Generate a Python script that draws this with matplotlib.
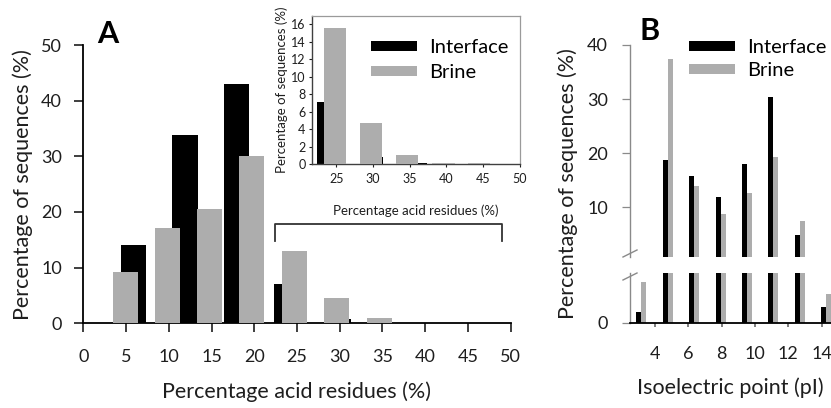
import matplotlib
matplotlib.use("Agg")
import matplotlib.pyplot as plt
from matplotlib.patches import Patch
from matplotlib.lines import Line2D

plt.rcParams['font.family'] = ['Lato', 'DejaVu Sans']

# ---------------- data ----------------
# Panel A: percentage acid residues (bin centres) and % of sequences
acid_brine_x = [4.94, 9.9, 14.8, 19.7, 24.7, 29.6, 34.6, 39.5, 44.4]
acid_brine = [9.2, 17.2, 20.6, 30.1, 13.0, 4.6, 0.9, 0.12, 0.05]
acid_interface_x = [5.9, 11.9, 17.9, 23.8, 29.8, 35.8, 41.7, 47.7]
acid_interface = [14.1, 33.9, 43.0, 7.1, 0.8, 0.1, 0.03, 0.02]

# Inset (tail of the distribution, >= 25 %)
inset_brine_x = [24.8, 29.7, 34.6, 39.6, 44.4]
inset_brine = [15.6, 4.7, 1.0, 0.15, 0.07]
inset_interface_x = [23.9, 29.9, 35.8, 41.7, 47.7]
inset_interface = [7.1, 0.8, 0.1, 0.04, 0.02]

# Panel B: isoelectric point bins and % of sequences
pi_bins = [3.0, 4.63, 6.19, 7.79, 9.35, 10.95, 12.55, 14.13]
pi_interface = [0.15, 18.7, 15.8, 11.8, 18.0, 30.4, 4.8, 0.22]
pi_brine = [0.57, 37.5, 13.95, 8.8, 12.6, 19.2, 7.5, 0.40]

acid_xticks = list(range(0, 51, 5))
acid_yticks = list(range(0, 51, 10))
inset_xticks = list(range(25, 51, 5))
inset_yticks = list(range(0, 17, 2))
pi_xticks = [4, 6, 8, 10, 12, 14]
pi_yticks_upper = [10, 20, 30, 40]
pi_yticks_lower = [0]

series_labels = ["Interface", "Brine"]

# ---------------- style ----------------
W, H, DPI = 831, 408, 100
BLACK = "#000000"
GRAY = "#adadad"
TXT = "#1e1e1e"
LABEL_FS = 15.5
TICK_FS = 13
LEG_FS = 14.5

fig = plt.figure(figsize=(W / DPI, H / DPI), dpi=DPI)
fig.patch.set_facecolor("white")


def fx(px):
    return px / W


def fy(py):
    return 1 - py / H


def rect(l, t, r, b):
    return [fx(l), fy(b), fx(r) - fx(l), fy(t) - fy(b)]


# ---------------- Panel A main ----------------
axA = fig.add_axes(rect(83.3, 45, 510.7, 323.3))
axA.bar(acid_interface_x, acid_interface, width=2.93, color=BLACK, zorder=2)
axA.bar(acid_brine_x, acid_brine, width=2.93, color=GRAY, zorder=3)
axA.set_xlim(0, 50)
axA.set_ylim(0, 50)
axA.set_xticks(acid_xticks)
axA.set_yticks(acid_yticks)
for s in ["top", "right"]:
    axA.spines[s].set_visible(False)
for s in ["left", "bottom"]:
    axA.spines[s].set_linewidth(1.3)
    axA.spines[s].set_color(BLACK)
axA.tick_params(axis="both", direction="out", length=6.5, width=1.2,
                labelsize=TICK_FS, colors=TXT)
axA.tick_params(axis="x", pad=12)
axA.tick_params(axis="y", pad=9)
axA.set_xlabel("Percentage acid residues (%)", fontsize=LABEL_FS, color=TXT, labelpad=12)
axA.set_ylabel("Percentage of sequences (%)", fontsize=LABEL_FS, color=TXT, labelpad=6)

# bracket marking the inset range
bx0, bx1, by, bdrop = 22.4, 49.0, 17.84, 3.0
axA.plot([bx0, bx0, bx1, bx1], [by - bdrop, by, by, by - bdrop],
         color="#333333", lw=1.3, clip_on=False, zorder=4)

fig.text(fx(97), fy(43), "A", fontsize=22, fontweight="bold", color=BLACK,
         ha="left", va="baseline")

# ---------------- Panel A inset ----------------
axI = fig.add_axes(rect(311.7, 15.7, 520, 164))
axI.set_facecolor("white")
axI.set_zorder(5)
axI.bar(inset_interface_x, inset_interface, width=3.05, color=BLACK, zorder=2)
axI.bar(inset_brine_x, inset_brine, width=3.05, color=GRAY, zorder=3)
axI.set_xlim(21.67, 50)
axI.set_ylim(0, 17)
axI.set_xticks(inset_xticks)
axI.set_yticks(inset_yticks)
for s in ["top", "right"]:
    axI.spines[s].set_color("#9a9a9a")
    axI.spines[s].set_linewidth(0.9)
for s in ["left", "bottom"]:
    axI.spines[s].set_color("#404040")
    axI.spines[s].set_linewidth(1.0)
axI.tick_params(axis="both", direction="out", length=2.5, width=0.8,
                labelsize=9, colors=TXT, pad=2)
axI.tick_params(axis="x", pad=4)
axI.set_xlabel("Percentage acid residues (%)", fontsize=9.5, color=TXT, labelpad=14)
axI.set_ylabel("Percentage of sequences (%)", fontsize=9.5, color=TXT, labelpad=2)
axI.legend([Patch(facecolor=BLACK), Patch(facecolor=GRAY)], series_labels,
           loc="upper left", bbox_to_anchor=(fx(371), fy(39)),
           bbox_transform=fig.transFigure, frameon=False, fontsize=LEG_FS,
           handlelength=2.3, handleheight=0.42, handletextpad=0.6,
           labelspacing=0.42, borderpad=0, borderaxespad=0)

# ---------------- Panel B (broken axis) ----------------
axBu = fig.add_axes(rect(630, 45, 831, 257.3))
axBl = fig.add_axes(rect(630, 272.7, 831, 322.7))
bw = 0.3
for ax in (axBu, axBl):
    ax.bar([p + bw for p in pi_bins], pi_brine, width=bw, color=GRAY, zorder=2)
    ax.bar(pi_bins, pi_interface, width=bw, color=BLACK, zorder=3)
    ax.set_xlim(2.5, 14.56)
    for s in ["top", "right"]:
        ax.spines[s].set_visible(False)
    ax.spines["left"].set_color("#8a8a8a")
    ax.spines["left"].set_linewidth(1.0)
    ax.tick_params(axis="y", direction="out", length=6, width=0.9,
                   color="#8a8a8a", labelsize=TICK_FS, labelcolor=TXT, pad=10)

axBu.set_ylim(0.74, 40)
axBu.set_yticks(pi_yticks_upper)
axBu.spines["bottom"].set_visible(False)
axBu.set_xticks([])

axBl.set_ylim(0, 0.7)
axBl.set_yticks(pi_yticks_lower)
axBl.set_xticks(pi_xticks)
axBl.spines["bottom"].set_color(BLACK)
axBl.spines["bottom"].set_linewidth(1.3)
axBl.tick_params(axis="x", direction="out", length=3, width=1.2,
                 color="#666666", labelsize=TICK_FS, labelcolor=TXT, pad=14)
axBl.set_xlabel("Isoelectric point (pI)", fontsize=LABEL_FS, color=TXT, labelpad=11)

fig.text(fx(568), fy(184), "Percentage of sequences (%)", rotation=90,
         fontsize=LABEL_FS, color=TXT, ha="center", va="center")

# break marks
for (x0, y0, x1, y1) in [(623, 257, 637, 250), (623, 280, 637, 273)]:
    fig.add_artist(Line2D([fx(x0), fx(x1)], [fy(y0), fy(y1)],
                          transform=fig.transFigure, color="#8a8a8a", lw=1.0))

axBu.legend([Patch(facecolor=BLACK), Patch(facecolor=GRAY)], series_labels,
            loc="upper left", bbox_to_anchor=(fx(689), fy(39)),
            bbox_transform=fig.transFigure, frameon=False, fontsize=LEG_FS,
            handlelength=2.3, handleheight=0.42, handletextpad=0.6,
            labelspacing=0.32, borderpad=0, borderaxespad=0)

fig.text(fx(639), fy(40), "B", fontsize=22, fontweight="bold", color=BLACK,
         ha="left", va="baseline")

fig.savefig("out.png", dpi=DPI, facecolor="white")
